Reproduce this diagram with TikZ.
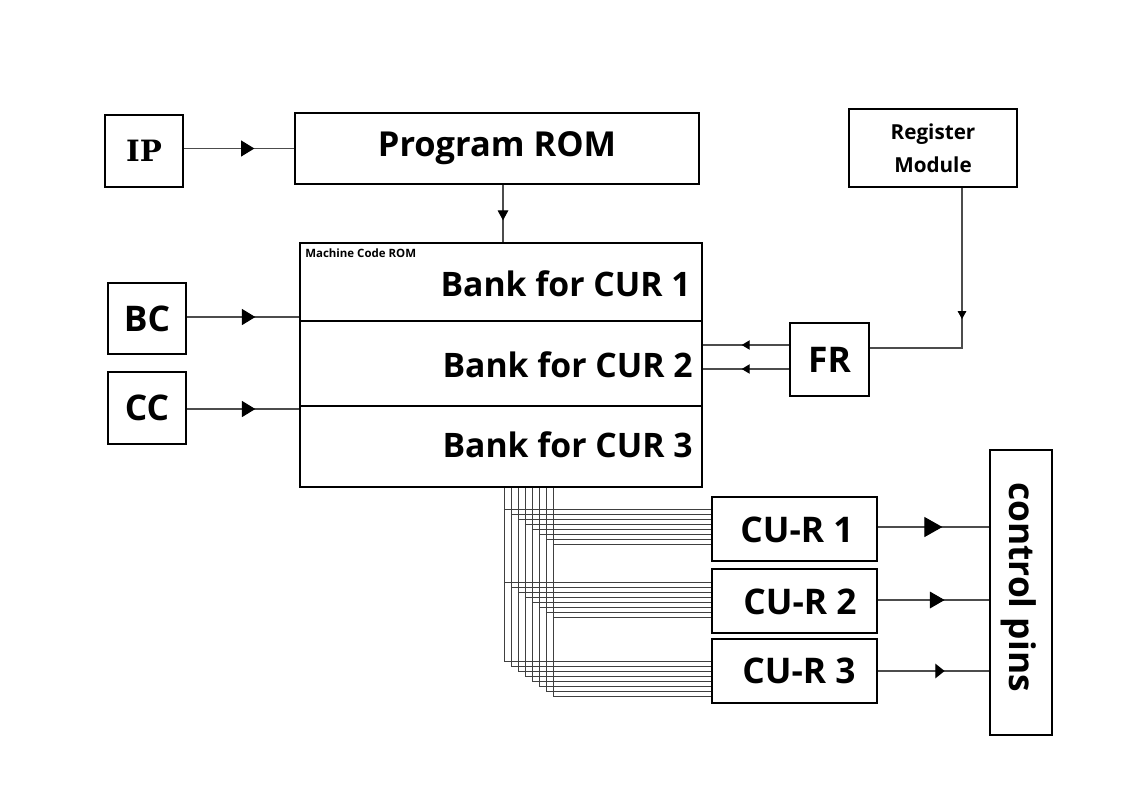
\documentclass[tikz,border=0pt]{standalone}
\usepackage{fontspec}
\setmainfont{Open Sans}
\newfontfamily\ipfont{DejaVu Serif}
\usetikzlibrary{arrows.meta,calc,decorations.markings}
\begin{document}
\begin{tikzpicture}[x=0.75pt,y=-0.75pt,
  box/.style={draw=black,line width=1.6pt,inner sep=0pt,fill=white},
  conn/.style={draw=black!70,line width=0.8pt},
  bus/.style={draw=black!75,line width=0.6pt},
  midarr/.style 2 args={postaction={decorate},decoration={markings,mark=at position #1 with {\arrow{#2}}}},
  bigtxt/.style={font=\fontsize{26.5}{28}\selectfont\bfseries},
  curtxt/.style={font=\fontsize{26.5}{28}\selectfont\bfseries,text depth=0pt,anchor=center},
  banktxt/.style={font=\fontsize{25.3}{27}\selectfont\bfseries,inner sep=0pt}
]
\useasboundingbox (0,0) rectangle (1123,794);
\fill[white] (0,0) rectangle (1123,794);

% boxes
\node[box,minimum width=58.5pt,minimum height=54pt,font=\ipfont\fontsize{22}{23}\selectfont\bfseries] (ip) at (144,151) {IP};
\node[box,minimum width=303pt,minimum height=53.25pt,font=\fontsize{25.8}{27}\selectfont\bfseries] (prom) at (497,148.5) {\raisebox{-2pt}{Program ROM}};
\node[box,minimum width=126pt,minimum height=58.5pt,align=center,font=\fontsize{15.5}{22.5}\selectfont\bfseries] (reg) at (933,148) {\raisebox{2pt}{Register}\\Module};
\node[box,minimum width=301.5pt,minimum height=58.5pt] (bank1) at (501,282) {};
\node[box,minimum width=301.5pt,minimum height=63.75pt] (bank2) at (501,363.5) {};
\node[box,minimum width=301.5pt,minimum height=60.75pt] (bank3) at (501,446.5) {};
\node[banktxt,anchor=east] (t1) at (691,284) {Bank for CUR 1};
\node[banktxt,anchor=east] (t2) at (693,365) {Bank for CUR 2};
\node[banktxt,anchor=east] (t3) at (693,445) {Bank for CUR 3};
\node[anchor=north west,inner sep=0pt,font=\fontsize{8.6}{9}\selectfont\bfseries] (mcr) at (305,249) {Machine Code ROM};
\node[box,minimum width=58.5pt,minimum height=53.25pt,bigtxt] (bc) at (147,318.5) {BC};
\node[box,minimum width=58.5pt,minimum height=54pt,bigtxt] (cc) at (147,408) {CC};
\node[box,minimum width=59.25pt,minimum height=54.75pt,bigtxt] (fr) at (829.5,359.5) {FR};
\node[box,minimum width=123.75pt,minimum height=48pt] (cur1) at (794.5,529) {};
\node[box,minimum width=123.75pt,minimum height=48pt] (cur2) at (794.5,601) {};
\node[box,minimum width=123.75pt,minimum height=48pt] (cur3) at (794.5,671) {};
\node[curtxt] (l1) at (797,530) {CU-R 1};
\node[curtxt] (l2) at (800,602) {CU-R 2};
\node[curtxt] (l3) at (799,671) {CU-R 3};
\node[box,minimum width=46.5pt,minimum height=213.75pt] (pins) at (1021,592.5) {};
\node[rotate=-90,font=\fontsize{26.5}{29}\selectfont\bfseries,inner sep=0pt] (pinstxt) at (1019,587) {control pins};

% connectors
\draw[conn,midarr={0.64}{Triangle[length=10pt,width=12pt,color=black]}] (ip.east |- prom.west) -- (prom.west);
\coordinate (pb) at ($(prom.south)+(6,0)$);
\draw[conn,midarr={0.62}{Triangle[length=7.5pt,width=8pt,color=black]}] (pb) -- (pb |- bank1.north);
\draw[conn,midarr={0.61}{Triangle[length=10pt,width=12pt,color=black]}] ($(bc.east)+(0,-1.5)$) coordinate (bce) -- (bce -| bank1.west);
\draw[conn,midarr={0.61}{Triangle[length=10pt,width=12pt,color=black]}] ($(cc.east)+(0,1)$) coordinate (cce) -- (cce -| bank3.west);
\coordinate (rs) at ($(reg.south)+(29,0)$);
\coordinate (fre) at ($(fr.east)+(0,-11.5)$);
\draw[conn,midarr={0.52}{Triangle[length=6pt,width=6.5pt,color=black]}] (rs) |- (fre);
\draw[conn,midarr={0.55}{Triangle[length=6pt,width=7pt,color=black]}] ($(fr.west)+(0,-14.5)$) coordinate (fa) -- (fa -| bank2.east);
\draw[conn,midarr={0.55}{Triangle[length=6pt,width=7pt,color=black]}] ($(fr.west)+(0,9.5)$) coordinate (fb) -- (fb -| bank2.east);
\draw[conn,midarr={0.58}{Triangle[length=13.5pt,width=15pt,color=black]}] ($(cur1.east)+(0,-2)$) coordinate (c1) -- (c1 -| pins.west);
\draw[conn,midarr={0.6}{Triangle[length=11pt,width=12.5pt,color=black]}] ($(cur2.east)+(0,-1)$) coordinate (c2) -- (c2 -| pins.west);
\draw[conn,midarr={0.6}{Triangle[length=7pt,width=11pt,color=black]}] (cur3.east) -- (cur3.east -| pins.west);

% bus
\foreach \i in {0,...,7} {
  \coordinate (top\i) at ($(bank3.south west)+({205+7*\i},0)$);
  \coordinate (ha\i) at ($(cur1.north west)+(0,{13+5*\i})$);
  \coordinate (hb\i) at ($(cur2.north west)+(0,{14+5*\i})$);
  \coordinate (hc\i) at ($(cur3.north west)+(0,{23+5*\i})$);
  \draw[bus] (top\i) -- (top\i |- hc\i) -- (hc\i);
  \draw[bus] (top\i |- ha\i) -- (ha\i);
  \draw[bus] (top\i |- hb\i) -- (hb\i);
}
\end{tikzpicture}
\end{document}
